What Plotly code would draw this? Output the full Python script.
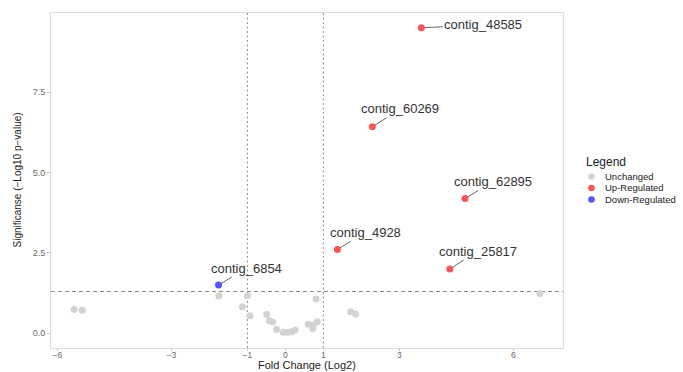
import plotly.graph_objects as go

# ---- data ----
gray_x = [-5.56, -5.35, -1.75, -1.0, -1.13, -0.93, -0.49, -0.42, -0.33, -0.23,
          -0.05, 0.06, 0.17, 0.26, 0.60, 0.72, 0.73, 0.84, 0.81, 1.72, 1.85, 6.70]
gray_y = [0.745, 0.72, 1.17, 1.17, 0.83, 0.55, 0.59, 0.39, 0.35, 0.12,
          0.03, 0.03, 0.05, 0.10, 0.28, 0.15, 0.25, 0.36, 1.07, 0.67, 0.60, 1.24]

up_names = ["contig_48585", "contig_60269", "contig_62895", "contig_25817", "contig_4928"]
up_x = [3.58, 2.29, 4.73, 4.33, 1.37]
up_y = [9.50, 6.42, 4.19, 2.00, 2.61]

down_names = ["contig_6854"]
down_x = [-1.76]
down_y = [1.50]

# label offsets (pixels) for repelled labels
label_ax = [62, 28, 28, 28, 28]
label_ay = [-3, -18, -17, -18, -17]
down_ax = [28]
down_ay = [-17]

x_ticks = [-6, -3, -1, 0, 1, 3, 6]
y_ticks = [0, 2.5, 5, 7.5]
y_ticktext = ["0.0", "2.5", "5.0", "7.5"]

x_title = "Fold Change (Log2)"
y_title = "Significanse (\u2212Log10 p\u2212value)"

legend_title = "Legend"
legend_labels = ["Unchanged", "Up-Regulated", "Down-Regulated"]
legend_colors = ["#D3D3D3", "#FA5556", "#5454F7"]

x_cut = [-1, 1]
p_cut = 1.301

FONT = "Liberation Sans, Arial, sans-serif"
GRAY, RED, BLUE = legend_colors

fig = go.Figure()
fig.add_trace(go.Scatter(x=gray_x, y=gray_y, mode="markers",
                         marker=dict(size=7, color=GRAY), name="Unchanged", showlegend=False))
fig.add_trace(go.Scatter(x=up_x, y=up_y, mode="markers",
                         marker=dict(size=7, color=RED), name="Up-Regulated", showlegend=False))
fig.add_trace(go.Scatter(x=down_x, y=down_y, mode="markers",
                         marker=dict(size=7, color=BLUE), name="Down-Regulated", showlegend=False))

# threshold lines
for xc in x_cut:
    fig.add_shape(type="line", xref="x", yref="paper", x0=xc, x1=xc, y0=0, y1=1,
                  line=dict(color="#8a8a8a", width=1, dash="2px,2.5px"), layer="below")
fig.add_shape(type="line", xref="paper", yref="y", x0=0, x1=1, y0=p_cut, y1=p_cut,
              line=dict(color="#8a8a8a", width=1, dash="4px,3px"), layer="below")

# labels
for n, x, y, ax, ay in zip(up_names + down_names, up_x + down_x, up_y + down_y,
                           label_ax + down_ax, label_ay + down_ay):
    fig.add_annotation(x=x, y=y, xref="x", yref="y", text=n, showarrow=True,
                       arrowhead=0, arrowwidth=0.9, arrowcolor="#555555",
                       ax=ax, ay=ay, standoff=3, startstandoff=0,
                       font=dict(family=FONT, size=13, color="#333333"))

# paper-coordinate helpers
L, R, T, B = 51, 120, 13, 24
W, H = 683 - L - R, 372 - T - B
def px(xp):
    return (xp - L) / W
def py(yp):
    return (372 - B - yp) / H

# axis titles
fig.add_annotation(x=0.5, y=py(371.5), xref="paper", yref="paper", text=x_title,
                   showarrow=False, xanchor="center", yanchor="bottom", borderpad=0,
                   font=dict(family=FONT, size=11, color="#222222"))
fig.add_annotation(x=px(17), y=0.5, xref="paper", yref="paper", text=y_title,
                   showarrow=False, xanchor="center", yanchor="middle", textangle=-90,
                   borderpad=0, font=dict(family=FONT, size=10, color="#222222"))

# custom legend
fig.add_annotation(x=px(584), y=py(162), xref="paper", yref="paper", text=legend_title,
                   showarrow=False, xanchor="left", yanchor="middle",
                   font=dict(family=FONT, size=12, color="#222222"))
for i, (lab, col) in enumerate(zip(legend_labels, legend_colors)):
    yy = 176.5 + i * 11.5
    fig.add_shape(type="circle", xref="paper", yref="paper",
                  xsizemode="pixel", ysizemode="pixel",
                  xanchor=px(591.5), yanchor=py(yy), x0=-3.3, x1=3.3, y0=-3.3, y1=3.3,
                  fillcolor=col, line=dict(width=0))
    fig.add_annotation(x=px(604), y=py(yy), xref="paper", yref="paper", text=lab,
                       showarrow=False, xanchor="left", yanchor="middle", borderpad=0,
                       font=dict(family=FONT, size=9.5, color="#222222"))

fig.update_layout(
    width=683, height=372,
    margin=dict(l=L, r=R, t=T, b=B, autoexpand=False),
    paper_bgcolor="white", plot_bgcolor="white",
    font=dict(family=FONT),
    showlegend=False,
)
fig.update_xaxes(range=[-6.17, 7.31], tickvals=x_ticks, showgrid=False, zeroline=False,
                 automargin=False, ticklabelstandoff=-3,
                 showline=True, mirror=True, linecolor="#dcdcdc", linewidth=1,
                 ticks="outside", ticklen=2, tickcolor="#c8c8c8",
                 tickfont=dict(family=FONT, size=8.5, color="#6a6a6a"))
fig.update_yaxes(range=[-0.456, 9.96], tickvals=y_ticks, ticktext=y_ticktext,
                 showgrid=False, zeroline=False, automargin=False,
                 showline=True, mirror=True, linecolor="#dcdcdc", linewidth=1,
                 ticks="outside", ticklen=3, tickcolor="#c8c8c8",
                 tickfont=dict(family=FONT, size=9, color="#6a6a6a"))

fig.write_html("out.html")
